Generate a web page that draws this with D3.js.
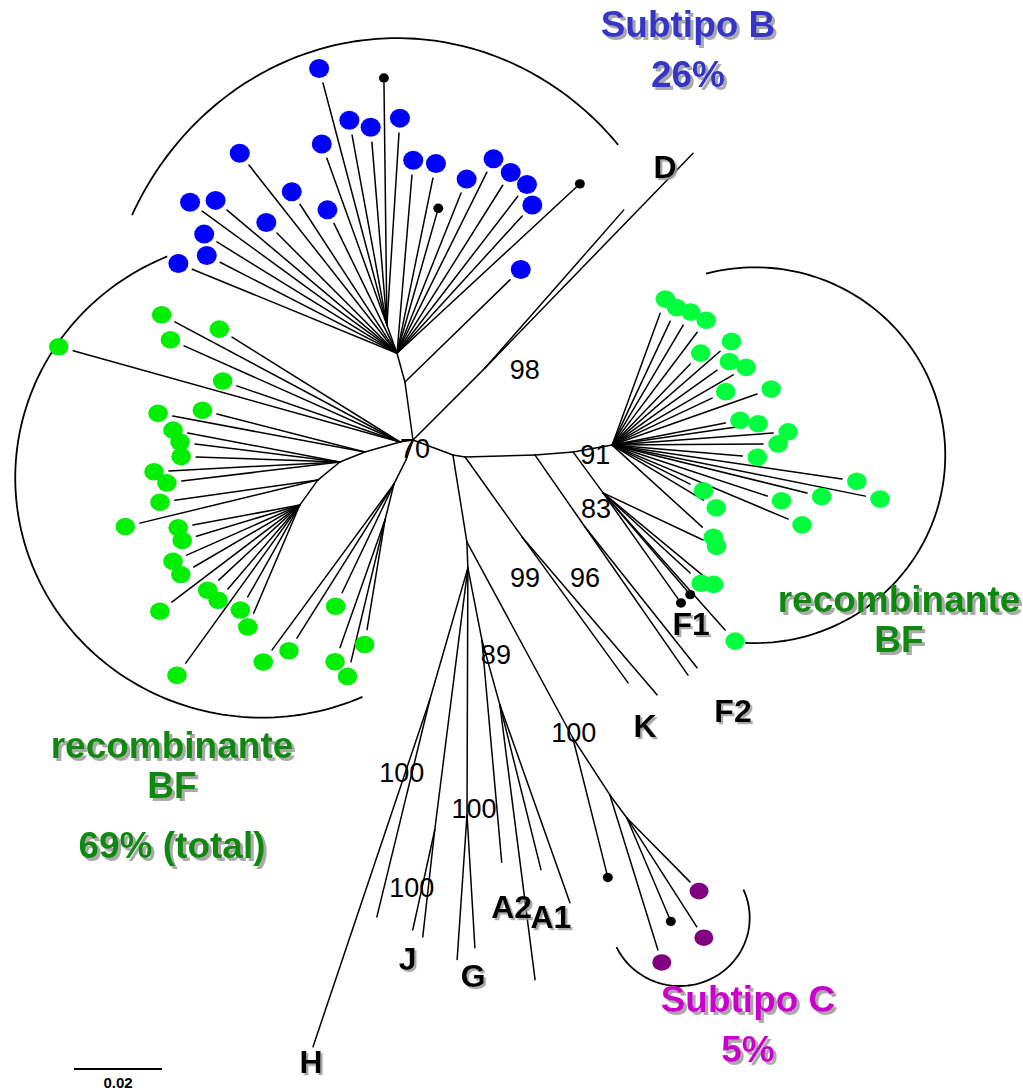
<!DOCTYPE html>
<html>
<head>
<meta charset="utf-8">
<script src="https://cdn.jsdelivr.net/npm/d3@7"></script>
<style>
  html, body { margin: 0; padding: 0; background: #fff; }
  svg { display: block; }
</style>
</head>
<body>
<svg id="chart" width="1023" height="1091"></svg>
<script>
// ---------------------------------------------------------------
// Unrooted HIV-1 pol tree. Every branch: [id, parent, length (subst./site), angle (deg, clockwise from east)]
// ---------------------------------------------------------------
const internalNodes = [
  ["root",   null,     0,      0],
  ["bStem",  "root",   0.0133, -97.9],
  ["bHub",   "bStem",  0.0068, -105.4],
  ["bSub",   "bHub",   0.0068, -109.7],
  ["dNode",  "root",   0.0231, -45.0],
  ["gl0",    "root",   0.0030, 171.3],
  ["gl1",    "gl0",    0.0083, 164.1],
  ["gl2",    "gl1",    0.0061, 158.2],
  ["gl3",    "gl2",    0.0065, 140.7],
  ["gl4",    "gl3",    0.0070, 125.8],
  ["gll0",   "root",   0.0048, 109.3],
  ["gll1",   "gll0",   0.0061, 116.6],
  ["gll2",   "gll1",   0.0084, 104.0],
  ["r0",     "root",   0.0097, 20.6],
  ["kJoin",  "r0",     0.0028, 9.5],
  ["f2Join", "kJoin",  0.0159, -1.6],
  ["f1Join", "f2Join", 0.0087, -4.5],
  ["hub91",  "f1Join", 0.0090, -10.2],
  ["kNode",  "kJoin",  0.0223, 54.5],
  ["f2Node", "f2Join", 0.0199, 55.2],
  ["f1Node", "f1Join", 0.0115, 53.8],
  ["aStem",  "r0",     0.0200, 80.9],
  ["aHub",   "aStem",  0.0059, 87.8],
  ["hNode",  "aHub",   0.0312, 106.1],
  ["jNode",  "aHub",   0.0600, 97.2],
  ["gNode",  "aHub",   0.0561, 90.2],
  ["a89",    "aHub",   0.0167, 79.0],
  ["a1Node", "a89",    0.0153, 74.5],
  ["c100",   "aStem",  0.0506, 61.6],
  ["c2",     "c100",   0.0155, 57.0],
  ["c3",     "c2",     0.0065, 53.5]
];

// Tips: [parent, length, angle, kind, name]   kind: sample subtype or "ref" for reference sequences
const tipsSubtypeB = [
  ["bSub", 0.0569, -104.8, "B"], ["bSub", 0.0550, -90.7, "ref"], ["bSub", 0.0439, -100.4, "B"],
  ["bSub", 0.0417, -94.7, "B"],  ["bSub", 0.0437, -86.4, "B"],   ["bSub", 0.0403, -109.8, "B"],
  ["bHub", 0.0544, -128.2, "B"], ["bHub", 0.0406, -85.2, "B"],   ["bHub", 0.0406, -78.4, "B"],
  ["bHub", 0.0331, -74.1, "ref"],["bHub", 0.0392, -68.2, "B"],   ["bHub", 0.0459, -63.6, "B"],
  ["bHub", 0.0451, -57.8, "B"],  ["bHub", 0.0450, -52.4, "B"],   ["bHub", 0.0422, -47.6, "B"],
  ["bHub", 0.0555, -42.8, "ref"],["bHub", 0.0404, -123.1, "B"],  ["bHub", 0.0328, -115.9, "B"],
  ["bHub", 0.0386, -135.0, "B"], ["bHub", 0.0548, -143.9, "B"],  ["bHub", 0.0505, -139.9, "B"],
  ["bHub", 0.0481, -148.3, "B"], ["bHub", 0.0452, -152.8, "B"],  ["bHub", 0.0503, -157.7, "B"],
  ["bStem", 0.0333, -44.2, "B"]
];

const tipsBFLeft = [
  ["gl0", 0.0771, -164.4, "BF"], ["gl0", 0.0580, -151.9, "BF"], ["gl0", 0.0537, -156.0, "BF"],
  ["gl0", 0.0450, -148.0, "BF"], ["gl0", 0.0392, -161.0, "BF"],
  ["gl1", 0.0444, -169.4, "BF"], ["gl1", 0.0347, -165.6, "BF"],
  ["gl2", 0.0352, -169.2, "BF"], ["gl2", 0.0332, -172.9, "BF"], ["gl2", 0.0327, -178.0, "BF"],
  ["gl2", 0.0389, 177.0, "BF"],  ["gl2", 0.0362, 173.1, "BF"],
  ["gl3", 0.0328, 172.0, "BF"],  ["gl3", 0.0416, 166.4, "BF"],
  ["gl4", 0.0247, 169.4, "BF"],  ["gl4", 0.0245, 163.2, "BF"],  ["gl4", 0.0281, 156.1, "BF"],
  ["gl4", 0.0279, 149.7, "BF"],  ["gl4", 0.0365, 142.8, "BF"],  ["gl4", 0.0251, 137.2, "BF"],
  ["gl4", 0.0251, 130.6, "BF"],  ["gl4", 0.0240, 119.5, "BF"],  ["gl4", 0.0267, 113.1, "BF"],
  ["gl4", 0.0443, 125.8, "BF"],
  ["gll1", 0.0274, 115.5, "BF"], ["gll1", 0.0414, 122.2, "BF"], ["gll1", 0.0468, 126.3, "BF"],
  ["gll2", 0.0253, 99.3, "BF"],  ["gll2", 0.0308, 109.4, "BF"], ["gll2", 0.0332, 103.5, "BF"]
];

const tipsBFRight = [
  ["hub91", 0.0319, -70.0, "BF"], ["hub91", 0.0311, -64.9, "BF"], ["hub91", 0.0317, -59.4, "BF"],
  ["hub91", 0.0321, -53.0, "BF"], ["hub91", 0.0325, -41.0, "BF"], ["hub91", 0.0256, -46.1, "BF"],
  ["hub91", 0.0293, -35.5, "BF"], ["hub91", 0.0318, -30.1, "BF"], ["hub91", 0.0349, -19.4, "BF"],
  ["hub91", 0.0251, -25.2, "BF"], ["hub91", 0.0262, -11.0, "BF"], ["hub91", 0.0301, -8.3, "BF"],
  ["hub91", 0.0367, -4.3, "BF"],  ["hub91", 0.0343, -0.4, "BF"],  ["hub91", 0.0297, 4.8, "BF"],
  ["hub91", 0.0528, 8.4, "BF"],   ["hub91", 0.0587, 11.4, "BF"],  ["hub91", 0.0456, 13.8, "BF"],
  ["hub91", 0.0371, 18.2, "BF"],  ["hub91", 0.0434, 22.8, "BF"],  ["hub91", 0.0198, 26.6, "BF"],
  ["hub91", 0.0242, 31.1, "BF"],  ["hub91", 0.0277, 42.3, "BF"],
  ["f1Node", 0.0269, 42.6, "BF"], ["f1Node", 0.0292, 39.6, "BF"], ["f1Node", 0.0417, 48.3, "BF"],
  ["f1Node", 0.0251, 25.2, "BF"]
];

const tipsReference = [
  ["dNode", 0.0680, -45.9, "none", "D1"], ["dNode", 0.0478, -48.7, "none", "D2"],
  ["f1Node", 0.0295, 54.7, "ref", "F1a"], ["f1Node", 0.0293, 49.4, "ref", "F1b"],
  ["f2Node", 0.0410, 55.2, "none", "F2a"], ["f2Node", 0.0409, 51.5, "none", "F2b"],
  ["kNode", 0.0410, 54.0, "none", "K1"],  ["kNode", 0.0472, 49.5, "none", "K2"],
  ["hNode", 0.0832, 108.6, "none", "H1"], ["hNode", 0.0508, 103.7, "none", "H2"],
  ["jNode", 0.0233, 102.4, "none", "J1"], ["jNode", 0.0245, 96.4, "none", "J2"],
  ["gNode", 0.0330, 93.9, "none", "G1"],  ["gNode", 0.0303, 86.6, "none", "G2"],
  ["a89", 0.0507, 84.9, "none", "A2"],
  ["a1Node", 0.0630, 82.7, "none", "A1a"], ["a1Node", 0.0386, 76.0, "none", "A1b"],
  ["a1Node", 0.0477, 70.5, "none", "A1c"]
];

const tipsSubtypeC = [
  ["c100", 0.0316, 75.9, "ref"],
  ["c2", 0.0369, 72.8, "C"],
  ["c3", 0.0244, 67.0, "ref"], ["c3", 0.0294, 57.3, "C"], ["c3", 0.0204, 45.4, "C"]
];

// Bootstrap support: [node, value]
const bootstrapNodes  = ["root", "dNode", "hub91", "f1Node", "kNode", "f2Node", "a89", "c100", "hNode", "gNode", "jNode"];
const bootstrapValues = [70, 98, 91, 83, 99, 96, 89, 100, 100, 100, 100];

// Reference subtype labels: [text, tip name]
const subtypeLabels = [["D", "D1"], ["F1", "F1a"], ["F2", "F2b"], ["K", "K2"], ["A2", "A2"],
                       ["A1", "A1c"], ["J", "J1"], ["G", "G1"], ["H", "H1"]];

// Clade groups and frequencies
const groupNames = ["Subtipo B", "recombinante BF", "recombinante BF", "Subtipo C"];
const groupShares = ["26%", "", "69% (total)", "5%"];

const scaleBarValue = 0.02;

// ---------------------------------------------------------------
// Layout and styles
// ---------------------------------------------------------------
const ROOT = [413, 440];
const len = d3.scaleLinear().domain([0, 0.02]).range([0, 88]);
const rad = a => a * Math.PI / 180;
const FONT = "'Liberation Sans', Arial, Helvetica, sans-serif";

// clade enclosing arcs: [anchor node, offset x, offset y, rx, ry, start deg, end deg] in tree units
const cladeArcs = [
  ["bHub", 0, 0, 0.0670, 0.0716, -154, -41.4],
  ["root", -0.0343, 0.0086, 0.0561, 0.0545, 66, 247.4],
  ["hub91", 0.0325, 0.0023, 0.0432, 0.0427, -105, 93],
  ["c3", 0.0120, 0.0227, 0.0159, 0.0155, -24.5, 154.6]
];

const markerStyle = {
  B:    { fill: "#0000ff", rx: 10,  ry: 9.5, gap: 15 },
  BFL:  { fill: "#00ee00", rx: 9.8, ry: 8.8, gap: 15 },
  BFR:  { fill: "#00ff3c", rx: 9.8, ry: 8.8, gap: 15 },
  C:    { fill: "#800080", rx: 9.5, ry: 8.3, gap: 13 },
  ref:  { fill: "#000000", rx: 5,   ry: 4.7, gap: 5 }
};

// label offsets in px relative to their node
const bootstrapOffset = {
  root: [2, 18], dNode: [40, 11], hub91: [-17, 19], f1Node: [-7, 25], kNode: [3, 50],
  f2Node: [0, 60], a89: [14, 24], c100: [1, 4], hNode: [-28, 82], gNode: [7, 3], jNode: [-23, 67]
};
const subtypeLabelOffset = {
  D: [-28, 25], F1: [13, 36], F2: [36, 54], K: [-12, 42], A2: [10, 56],
  A1: [-19, 25], J: [-5, 40], G: [16, 27], H: [-2, 26]
};
const groupLabelLayout = [
  { x: 688, y: 37,  color: "#3434c8" },
  { x: 899, y: 612, color: "#118a11" },
  { x: 172, y: 758, color: "#118a11" },
  { x: 748, y: 1012, color: "#cc00cc" }
];

// ---------------------------------------------------------------
// Build positions
// ---------------------------------------------------------------
const pos = new Map();
const edges = [];
for (const [id, parent, l, a] of internalNodes) {
  if (parent === null) { pos.set(id, ROOT); continue; }
  const p = pos.get(parent);
  const q = [p[0] + len(l) * Math.cos(rad(a)), p[1] + len(l) * Math.sin(rad(a))];
  pos.set(id, q);
  edges.push([p, q]);
}

function buildTips(list, kindMap) {
  return list.map(([parent, l, a, kind, name]) => {
    const p = pos.get(parent);
    const c = Math.cos(rad(a)), s = Math.sin(rad(a));
    const end = [p[0] + len(l) * c, p[1] + len(l) * s];
    edges.push([p, end]);
    if (name) pos.set(name, end);
    const styleKey = kindMap[kind];
    const st = styleKey ? markerStyle[styleKey] : null;
    return { end, st, marker: st ? [end[0] + st.gap * c, end[1] + st.gap * s] : null };
  });
}

const allTips = [
  ...buildTips(tipsSubtypeB, { B: "B", ref: "ref" }),
  ...buildTips(tipsBFLeft, { BF: "BFL" }),
  ...buildTips(tipsBFRight, { BF: "BFR" }),
  ...buildTips(tipsReference, { ref: "ref" }),
  ...buildTips(tipsSubtypeC, { C: "C", ref: "ref" })
];

// ---------------------------------------------------------------
// Draw
// ---------------------------------------------------------------
const svg = d3.select("#chart");
svg.append("rect").attr("width", 1023).attr("height", 1091).attr("fill", "#fff");

// drop shadow used by the bold labels
const defs = svg.append("defs");
function addShadow(id, d) {
  defs.append("filter").attr("id", id)
    .attr("x", "-10%").attr("y", "-20%").attr("width", "130%").attr("height", "150%")
    .append("feDropShadow")
    .attr("dx", d).attr("dy", d).attr("stdDeviation", 0.7)
    .attr("flood-color", "#9a9a9a").attr("flood-opacity", 0.85);
}
addShadow("shadowSmall", 2.2);
addShadow("shadowLarge", 3);

// clade arcs
const arcLine = d3.line();
svg.append("g").selectAll("path").data(cladeArcs).join("path")
  .attr("d", ([anchor, ox, oy, rx, ry, t0, t1]) => {
    const c = pos.get(anchor);
    const cx = c[0] + len(ox), cy = c[1] + len(oy);
    const pts = d3.range(t0, t1 + 0.001, (t1 - t0) / 120)
      .map(t => [cx + len(rx) * Math.cos(rad(t)), cy + len(ry) * Math.sin(rad(t))]);
    return arcLine(pts);
  })
  .attr("fill", "none").attr("stroke", "#000").attr("stroke-width", 1.8);

// branches
svg.append("g").selectAll("line").data(edges).join("line")
  .attr("x1", d => d[0][0]).attr("y1", d => d[0][1])
  .attr("x2", d => d[1][0]).attr("y2", d => d[1][1])
  .attr("stroke", "#000").attr("stroke-width", 1.5).attr("stroke-linecap", "round");

// sample markers
svg.append("g").selectAll("ellipse").data(allTips.filter(d => d.marker)).join("ellipse")
  .attr("cx", d => d.marker[0]).attr("cy", d => d.marker[1])
  .attr("rx", d => d.st.rx).attr("ry", d => d.st.ry)
  .attr("fill", d => d.st.fill);

// bootstrap values
svg.append("g").selectAll("text").data(bootstrapNodes).join("text")
  .attr("x", (n) => pos.get(n)[0] + bootstrapOffset[n][0])
  .attr("y", (n) => pos.get(n)[1] + bootstrapOffset[n][1])
  .attr("text-anchor", "middle")
  .attr("font-family", FONT).attr("font-size", 27)
  .attr("fill", "#000")
  .text((n, i) => bootstrapValues[i]);

function boldText(g, x, y, txt, size, color, shadowId) {
  g.append("text").attr("x", x).attr("y", y)
    .attr("text-anchor", "middle").attr("font-family", FONT)
    .attr("font-weight", "bold").attr("font-size", size)
    .attr("fill", color).attr("filter", `url(#${shadowId})`).text(txt);
}

// reference subtype letters
const subG = svg.append("g");
for (const [txt, tip] of subtypeLabels) {
  const p = pos.get(tip), o = subtypeLabelOffset[txt];
  boldText(subG, p[0] + o[0], p[1] + o[1], txt, 32, "#000", "shadowSmall");
}

// clade group titles
const grpG = svg.append("g");
groupNames.forEach((name, i) => {
  const L = groupLabelLayout[i];
  const words = name.startsWith("recombinante") ? ["recombinante", "BF"] : [name];
  words.forEach((w, k) => boldText(grpG, L.x, L.y + k * 40, w, 37, L.color, "shadowLarge"));
  if (groupShares[i]) {
    const dy = name.startsWith("recombinante") ? 100 : 50;
    boldText(grpG, L.x, L.y + dy, groupShares[i], 37, L.color, "shadowLarge");
  }
});

// scale bar
const sb = svg.append("g").attr("transform", "translate(74,1069)");
sb.append("line").attr("x1", 0).attr("x2", len(scaleBarValue)).attr("y1", 0).attr("y2", 0)
  .attr("stroke", "#000").attr("stroke-width", 2);
sb.append("text").attr("x", len(scaleBarValue) / 2).attr("y", 19)
  .attr("text-anchor", "middle").attr("font-family", FONT)
  .attr("font-weight", "bold").attr("font-size", 15).text(String(scaleBarValue));
</script>
</body>
</html>
